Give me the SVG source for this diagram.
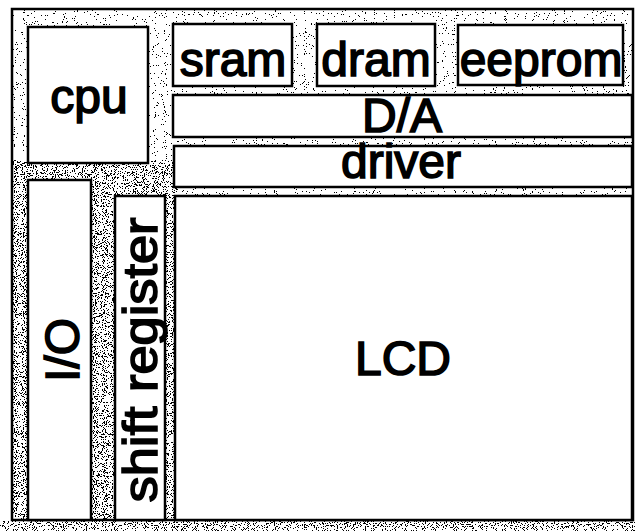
<svg xmlns="http://www.w3.org/2000/svg" width="635" height="531" viewBox="0 0 635 531">
<style>
.box{fill:#fff;stroke:#000;stroke-width:2.5}
.lbl{font-family:"Liberation Sans",Arial,sans-serif;font-size:48px;fill:#000;stroke:#000;stroke-width:1.6;text-anchor:middle}
</style>
<defs>
<filter id="sp1" x="0" y="0" width="100%" height="100%" filterUnits="objectBoundingBox">
<feTurbulence type="fractalNoise" baseFrequency="0.9" numOctaves="2" seed="4" result="n"/>
<feColorMatrix in="n" type="matrix" values="0 0 0 0 0  0 0 0 0 0  0 0 0 0 0  1 0 0 0 0"/>
<feComponentTransfer><feFuncA type="discrete" tableValues="0 0 0 0 0 0 0 1 1 1"/></feComponentTransfer>
</filter>
<filter id="sp2" x="0" y="0" width="100%" height="100%" filterUnits="objectBoundingBox">
<feTurbulence type="fractalNoise" baseFrequency="0.9" numOctaves="2" seed="9" result="n"/>
<feColorMatrix in="n" type="matrix" values="0 0 0 0 0  0 0 0 0 0  0 0 0 0 0  1 0 0 0 0"/>
<feComponentTransfer><feFuncA type="discrete" tableValues="0 0 0 0 0 0 1 1 1 1"/></feComponentTransfer>
</filter>
</defs>
<rect width="635" height="531" fill="#fff"/>
<g id="background">
<rect x="12" y="9" width="621" height="511" fill="#000" filter="url(#sp1)"/>
<rect x="12" y="160" width="165" height="360" fill="#000" filter="url(#sp2)"/>
<rect x="0" y="520" width="635" height="11" fill="#000" filter="url(#sp2)"/>
<rect x="12" y="9" width="621" height="511" fill="none" stroke="#000" stroke-width="2.5"/>
</g>
<g id="cpu"><rect class="box" x="28" y="27" width="120" height="136"/><text class="lbl" x="89" y="113">cpu</text></g>
<g id="sram"><rect class="box" x="173" y="24" width="119" height="62"/><text class="lbl" x="233" y="76">sram</text></g>
<g id="dram"><rect class="box" x="317" y="24" width="118" height="62"/><text class="lbl" x="376" y="76">dram</text></g>
<g id="eeprom"><rect class="box" x="458" y="25" width="165" height="60"/><text class="lbl" x="541" y="76">eeprom</text></g>
<g id="da"><rect class="box" x="173" y="95" width="459" height="42"/><text class="lbl" x="402" y="132">D/A</text></g>
<g id="driver"><rect class="box" x="174" y="146" width="458" height="41"/><text class="lbl" x="401" y="178">driver</text></g>
<g id="lcd"><rect class="box" x="175" y="196" width="457" height="324"/><text class="lbl" x="403" y="375">LCD</text></g>
<g id="io"><rect class="box" x="28" y="180" width="63" height="340"/><text class="lbl" transform="translate(79 350) rotate(-90)" x="0" y="0">I/O</text></g>
<g id="shift-register"><rect class="box" x="115" y="196" width="50" height="324"/><text class="lbl" transform="translate(157 360) rotate(-90)" x="0" y="0" textLength="285" lengthAdjust="spacingAndGlyphs">shift register</text></g>
<g id="connectors"/>
</svg>
